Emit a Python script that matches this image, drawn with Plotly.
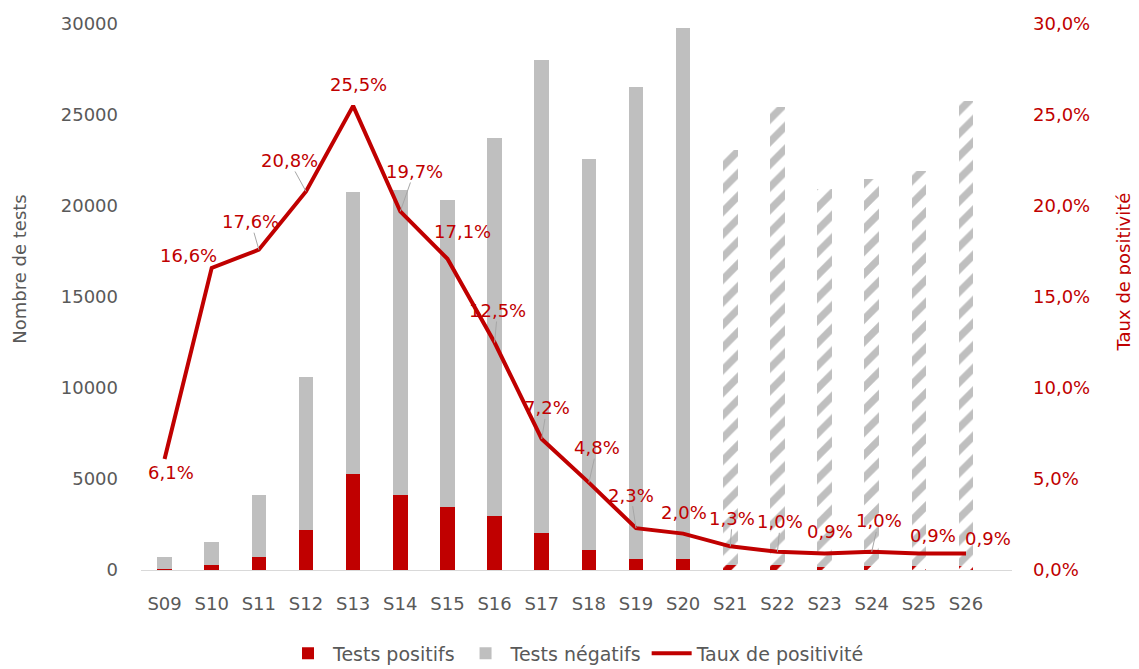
import plotly.graph_objects as go

weeks = ["S09", "S10", "S11", "S12", "S13", "S14", "S15", "S16", "S17",
         "S18", "S19", "S20", "S21", "S22", "S23", "S24", "S25", "S26"]
total_tests = [710, 1540, 4140, 10600, 20770, 20900, 20350, 23740, 28020,
               22580, 26540, 29760, 23080, 25460, 20930, 21480, 21940, 25770]
positive_rate = [6.1, 16.6, 17.6, 20.8, 25.5, 19.7, 17.1, 12.5, 7.2,
                 4.8, 2.3, 2.0, 1.3, 1.0, 0.9, 1.0, 0.9, 0.9]
positive_tests = [43, 256, 729, 2205, 5296, 4117, 3480, 2968, 2017,
                  1084, 610, 595, 300, 255, 188, 215, 197, 232]
provisional = [False] * 12 + [True] * 6

negative_tests = [t - p for t, p in zip(total_tests, positive_tests)]
rate_frac = [r / 100 for r in positive_rate]
rate_text = [f"{r:.1f}%".replace(".", ",") for r in positive_rate]

# label offsets (pixels) and whether a leader line is drawn
label_dx = [6, -23, -8, -17, 5, 14, 15, 3, 5, 8, -5, 1, 2, 3, 5, 7, 14, 22]
label_dy = [14, -12, -28, -31, -21, -40, -27, -32, -31, -35, -33, -21, -28, -30, -22, -31, -18, -15]
leader = [False, False, True, True, False, True, False, True, True,
          True, True, False, True, True, False, True, False, False]

RED = "#C00000"
GREY = "#BFBFBF"
TXT = "#595959"
FONT = "DejaVu Sans"

shapes_pat = ["/" if p else "" for p in provisional]

fig = go.Figure()
fig.add_trace(go.Bar(
    x=weeks, y=positive_tests, name="Tests positifs",
    marker=dict(color=RED, line=dict(width=0),
                pattern=dict(shape=shapes_pat, fillmode="replace", size=16, solidity=0.45)),
))
fig.add_trace(go.Bar(
    x=weeks, y=negative_tests, name="Tests négatifs",
    marker=dict(color=GREY, line=dict(width=0),
                pattern=dict(shape=shapes_pat, fillmode="replace", size=16, solidity=0.45)),
))
fig.add_trace(go.Scatter(
    x=weeks, y=rate_frac, name="Taux de positivité", yaxis="y2",
    mode="lines", line=dict(color=RED, width=4),
))

annotations = []
for w, r, t, dx, dy, ld in zip(weeks, rate_frac, rate_text, label_dx, label_dy, leader):
    annotations.append(dict(
        x=w, y=r, xref="x", yref="y2", text=t, showarrow=True,
        ax=dx, ay=dy, arrowhead=0, arrowwidth=1,
        arrowcolor="#A6A6A6" if ld else "rgba(0,0,0,0)",
        font=dict(family=FONT, size=18, color=RED),
        borderpad=0,
    ))
annotations.append(dict(
    text="Nombre de tests", xref="paper", yref="paper", x=0, y=0.55,
    xshift=-121, xanchor="center", yanchor="middle", textangle=-90, showarrow=False,
    font=dict(family=FONT, size=18, color=TXT),
))
annotations.append(dict(
    text="Taux de positivité", xref="paper", yref="paper", x=1, y=0.545,
    xshift=111, xanchor="center", yanchor="middle", textangle=-90, showarrow=False,
    font=dict(family=FONT, size=18, color=RED),
))

fig.update_layout(
    width=1131, height=661,
    barmode="stack", bargap=0.69,
    separators=", ",
    plot_bgcolor="white", paper_bgcolor="white",
    margin=dict(l=133, r=127, t=16, b=99, autoexpand=False),
    font=dict(family=FONT, size=18, color=TXT),
    xaxis=dict(showline=True, linecolor="#D9D9D9", linewidth=1, ticks="",
               tickfont=dict(family=FONT, size=18, color=TXT), showgrid=False,
               ticklabelstandoff=17),
    yaxis=dict(range=[0, 30000], dtick=5000, tickformat="d", showgrid=False,
               zeroline=False, showline=False,
               tickfont=dict(family=FONT, size=18, color=TXT), ticklabelstandoff=22),
    yaxis2=dict(range=[0, 0.30], dtick=0.05, tickformat=".1%", overlaying="y",
                side="right", showgrid=False, zeroline=False, showline=False,
                tickfont=dict(family=FONT, size=18, color=RED), ticklabelstandoff=20),
    legend=dict(orientation="h", x=0.5, xanchor="center", xref="paper",
                y=-0.118, yanchor="top", yref="paper",
                font=dict(family=FONT, size=19, color=TXT),
                traceorder="normal", itemwidth=40),
    annotations=annotations,
    showlegend=True,
)

fig.write_html("out.html")
